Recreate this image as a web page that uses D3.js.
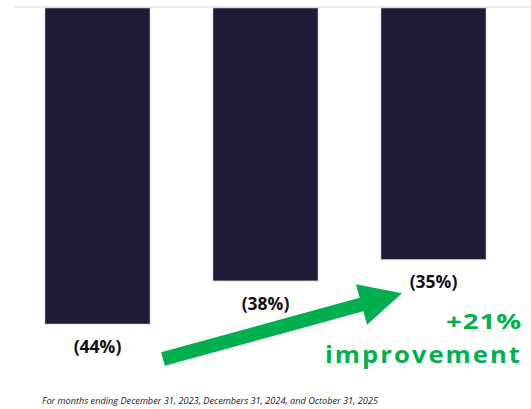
<!DOCTYPE html>
<html>
<head>
<meta charset="utf-8">
<script src="https://cdn.jsdelivr.net/npm/d3@7"></script>
<style>
  body { margin: 0; background: #fff; }
  svg { display: block; }
</style>
</head>
<body>
<svg id="chart"></svg>
<script>
const periods = ["2023", "2024", "2025"];
const values = [44, 38, 35];
const labels = ["(44%)", "(38%)", "(35%)"];
const callout = ["+21%", "improvement"];
const footnote = "For months ending December 31, 2023, Decembers 31, 2024, and October 31, 2025";

const width = 531, height = 409;
const navy = "#1e1a35";
const green = "#00b050";

const svg = d3.select("#chart").attr("width", width).attr("height", height);

const x = d3.scaleBand()
  .domain(periods)
  .range([13.5, 517.5])
  .paddingInner(0.375)
  .paddingOuter(0.1875);

const y = d3.scaleLinear().domain([0, 44]).range([8, 324]);

// baseline
svg.append("line")
  .attr("x1", 13).attr("x2", width)
  .attr("y1", 7).attr("y2", 7)
  .attr("stroke", "#d9d9d9")
  .attr("stroke-width", 1);

// bars hang down from the baseline
svg.selectAll("rect.bar")
  .data(values)
  .join("rect")
  .attr("class", "bar")
  .attr("x", (d, i) => x(periods[i]))
  .attr("y", y(0))
  .attr("width", x.bandwidth())
  .attr("height", d => y(d) - y(0))
  .attr("fill", navy)
  .attr("stroke", "#b8b8c8")
  .attr("stroke-width", 0.6);

// value labels under each bar
svg.selectAll("text.val")
  .data(values)
  .join("text")
  .attr("class", "val")
  .attr("x", (d, i) => x(periods[i]) + x.bandwidth() / 2)
  .attr("y", d => y(d) + 29)
  .attr("text-anchor", "middle")
  .attr("font-family", "'Open Sans', sans-serif")
  .attr("font-weight", "bold")
  .attr("font-size", 17.5)
  .attr("fill", "#111")
  .text((d, i) => labels[i]);

// green arrow from first label toward last label
const x0 = x(periods[0]) + x.bandwidth() + 13, y0 = y(values[0]) + 35;
const x1 = x(periods[2]) + 21, y1 = y(values[2]) + 34;
const ang = Math.atan2(y1 - y0, x1 - x0);
const len = Math.hypot(x1 - x0, y1 - y0);
const shaft = 7, head = 21, headLen = 42;
const pts = [
  [0, -shaft], [len - headLen, -shaft], [len - headLen, -head],
  [len, 0],
  [len - headLen, head], [len - headLen, shaft], [0, shaft]
];
svg.append("path")
  .attr("d", d3.line()(pts) + "Z")
  .attr("transform", `translate(${x0},${y0}) rotate(${ang * 180 / Math.PI})`)
  .attr("fill", green);

// callout text
svg.append("text")
  .attr("x", 522).attr("y", 329)
  .attr("text-anchor", "end")
  .attr("font-family", "'Open Sans', sans-serif")
  .attr("font-weight", "bold")
  .attr("font-size", 22)
  .attr("letter-spacing", 0.8)
  .attr("textLength", 76)
  .attr("lengthAdjust", "spacingAndGlyphs")
  .attr("fill", green)
  .text(callout[0]);

svg.append("text")
  .attr("x", 522).attr("y", 363)
  .attr("text-anchor", "end")
  .attr("font-family", "'Open Sans', sans-serif")
  .attr("font-weight", "bold")
  .attr("font-size", 23)
  .attr("letter-spacing", 1.8)
  .attr("textLength", 197)
  .attr("lengthAdjust", "spacingAndGlyphs")
  .attr("fill", green)
  .text(callout[1]);

// footnote
svg.append("text")
  .attr("x", 42).attr("y", 404)
  .attr("font-family", "'Open Sans', sans-serif")
  .attr("font-style", "italic")
  .attr("font-size", 8.5)
  .attr("textLength", 336)
  .attr("lengthAdjust", "spacingAndGlyphs")
  .attr("fill", "#222")
  .text(footnote);
</script>
</body>
</html>
